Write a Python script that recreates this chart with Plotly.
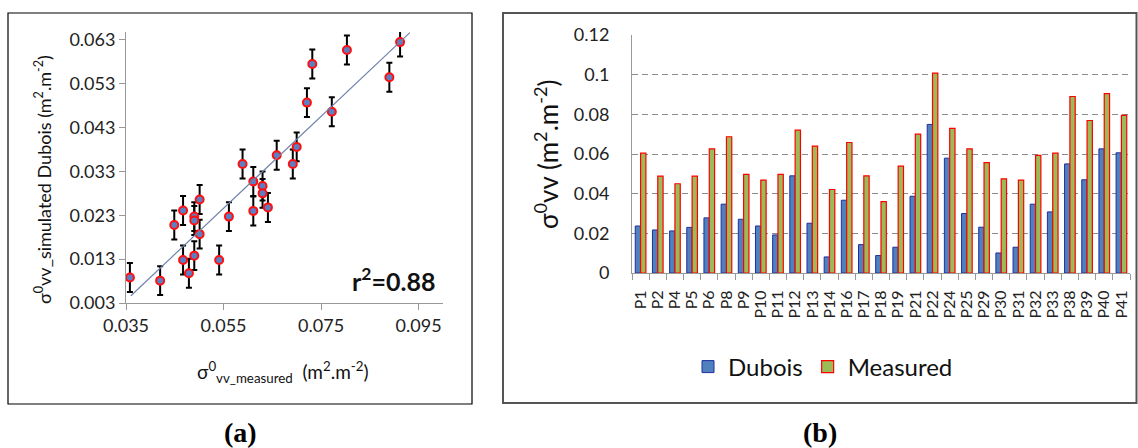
import plotly.graph_objects as go
import numpy as np

# ---------------- data: panel (a) scatter ----------------
meas_x = [0.0358, 0.0420, 0.0449, 0.0467, 0.0467, 0.0479, 0.0490, 0.0490, 0.0490,
          0.0501, 0.0501, 0.0541, 0.0561, 0.0589, 0.0611, 0.0611, 0.0630, 0.0630,
          0.0641, 0.0659, 0.0692, 0.0700, 0.0721, 0.0732, 0.0772, 0.0803, 0.0890, 0.0912]
dubois_y = [0.0088, 0.0081, 0.0208, 0.0241, 0.0128, 0.0098, 0.0227, 0.0218, 0.0138,
            0.0266, 0.0187, 0.0128, 0.0227, 0.0347, 0.0307, 0.0240, 0.0297, 0.0280,
            0.0248, 0.0367, 0.0347, 0.0386, 0.0487, 0.0575, 0.0466, 0.0607, 0.0545, 0.0625]
err_half = 0.0033
fit_slope = 1.049
fit_intercept = -0.0331
fit_x = [0.0360, 0.0932]
r2_text = "r<sup>2</sup>=0.88"
x_ticks_a = [0.035, 0.055, 0.075, 0.095]
y_ticks_a = [0.003, 0.013, 0.023, 0.033, 0.043, 0.053, 0.063]

# ---------------- data: panel (b) bars ----------------
plots = ["P1", "P2", "P4", "P5", "P6", "P8", "P9", "P10", "P11", "P12", "P13", "P14",
         "P16", "P17", "P18", "P19", "P21", "P22", "P24", "P25", "P29", "P30", "P31",
         "P32", "P33", "P38", "P39", "P40", "P41"]
dubois = [0.0237, 0.0217, 0.0212, 0.0230, 0.0278, 0.0347, 0.0271, 0.0237, 0.0192,
          0.0490, 0.0251, 0.0081, 0.0367, 0.0143, 0.0088, 0.0130, 0.0387, 0.0749,
          0.0579, 0.0300, 0.0231, 0.0101, 0.0130, 0.0347, 0.0308, 0.0550, 0.0470,
          0.0626, 0.0606]
measured = [0.0604, 0.0488, 0.0450, 0.0488, 0.0626, 0.0687, 0.0497, 0.0468, 0.0497,
            0.0720, 0.0640, 0.0421, 0.0658, 0.0490, 0.0360, 0.0539, 0.0700, 0.1008,
            0.0729, 0.0626, 0.0557, 0.0475, 0.0468, 0.0593, 0.0604, 0.0890, 0.0769,
            0.0904, 0.0795]

W, H = 1138, 448
FONT = "Lato"


def px(x):
    return x / W


def py(y):
    return 1 - y / H


fig = go.Figure()

# scatter with error bars
fig.add_trace(go.Scatter(
    x=meas_x, y=dubois_y, mode="markers", xaxis="x", yaxis="y", showlegend=False,
    marker=dict(size=8, color="#5B7FC2", line=dict(color="#FF1010", width=2)),
    error_y=dict(type="constant", value=err_half, color="black", thickness=2, width=3),
))
fx = np.array(fit_x)
fig.add_trace(go.Scatter(
    x=fx, y=fit_slope * fx + fit_intercept, mode="lines", xaxis="x", yaxis="y",
    showlegend=False, line=dict(color="#7083AD", width=1.2),
))

# bars
fig.add_trace(go.Bar(
    x=plots, y=dubois, name="Dubois", xaxis="x2", yaxis="y2",
    marker=dict(color="#4F81BD", line=dict(color="#1F2F9F", width=1)),
))
fig.add_trace(go.Bar(
    x=plots, y=measured, name="Measured", xaxis="x2", yaxis="y2",
    marker=dict(color="#9BBB59", line=dict(color="#FF0000", width=1.2)),
))

axis_gray = "#999999"
tick_font = dict(family=FONT, size=18, color="#222222")

fig.update_layout(
    template="none",
    width=W, height=H, margin=dict(l=0, r=0, t=0, b=0, pad=0, autoexpand=False),
    paper_bgcolor="white", plot_bgcolor="white",
    barmode="group", bargap=0.38, bargroupgap=0,
    font=dict(family=FONT, color="#222222"),
    xaxis=dict(domain=[px(126), px(443)], range=[0.035, 0.1], anchor="y", automargin=False,
               tickmode="array", tickvals=x_ticks_a, ticktext=[f"{v:.3f}" for v in x_ticks_a],
               ticks="outside", ticklen=6, tickcolor=axis_gray,
               showline=True, linecolor=axis_gray, linewidth=1,
               showgrid=False, zeroline=False, tickfont=tick_font),
    yaxis=dict(domain=[py(303), py(32)], range=[0.003, 0.0648], anchor="x", automargin=False,
               tickmode="array", tickvals=y_ticks_a, ticktext=[f"{v:.3f}" for v in y_ticks_a],
               ticks="outside", ticklen=6, tickcolor=axis_gray,
               showline=True, linecolor=axis_gray, linewidth=1,
               showgrid=False, zeroline=False, tickfont=tick_font),
    xaxis2=dict(domain=[px(632), px(1130)], anchor="y2", type="category", automargin=False,
                dtick=1, ticks="outside", tickson="boundaries", ticklen=6, tickcolor=axis_gray,
                tickangle=-90, showline=True, linecolor=axis_gray, linewidth=1,
                ticklabelstandoff=10,
                showgrid=False, zeroline=False,
                tickfont=dict(family=FONT, size=16, color="#222222")),
    yaxis2=dict(domain=[py(273), py(35)], anchor="x2", range=[0, 0.12], dtick=0.02,
                automargin=False, tick0=0,
                showgrid=True, gridcolor="#8C8C8C", griddash="6px,4px", gridwidth=1.4,
                showline=True, linecolor=axis_gray, linewidth=1, zeroline=False,
                ticks="", ticklabelstandoff=18, tickfont=tick_font),
    legend=dict(orientation="h", x=px(823), xanchor="center", y=py(367), yanchor="middle",
                font=dict(family=FONT, size=24, color="#111111"), bgcolor="rgba(0,0,0,0)"),
)

# panel borders
fig.add_shape(type="rect", xref="paper", yref="paper", x0=px(8), x1=px(472),
              y0=py(404), y1=py(13), line=dict(color="black", width=1.2))
fig.add_shape(type="rect", xref="paper", yref="paper", x0=px(503), x1=px(1136.5),
              y0=py(403), y1=py(13), line=dict(color="#555555", width=2))


def note(x, y, text, size, family=FONT, angle=0, color="#111111"):
    fig.add_annotation(xref="paper", yref="paper", x=px(x), y=py(y), text=text,
                       textangle=angle, showarrow=False, xanchor="center", yanchor="middle",
                       font=dict(family=family, size=size, color=color))


note(43, 180, "σ<sup>0</sup>vv_simulated Dubois (m<sup>2</sup>.m<sup>-2</sup>)", 18, angle=-90)
note(283, 372, "σ<sup>0</sup><sub>vv_measured</sub>  (m<sup>2</sup>.m<sup>-2</sup>)", 19)
note(393, 279, f"<b>{r2_text}</b>", 25)
note(547, 155, "σ<sup>0</sup>vv (m<sup>2</sup>.m<sup>-2</sup>)", 26, angle=-90)
note(240, 432, "<b>(a)</b>", 28, family="Liberation Serif", color="black")
note(820, 432, "<b>(b)</b>", 28, family="Liberation Serif", color="black")

fig.write_html("out.html", config={"displayModeBar": False},
               post_script="document.body.style.margin='0';document.body.style.overflow='hidden';")
